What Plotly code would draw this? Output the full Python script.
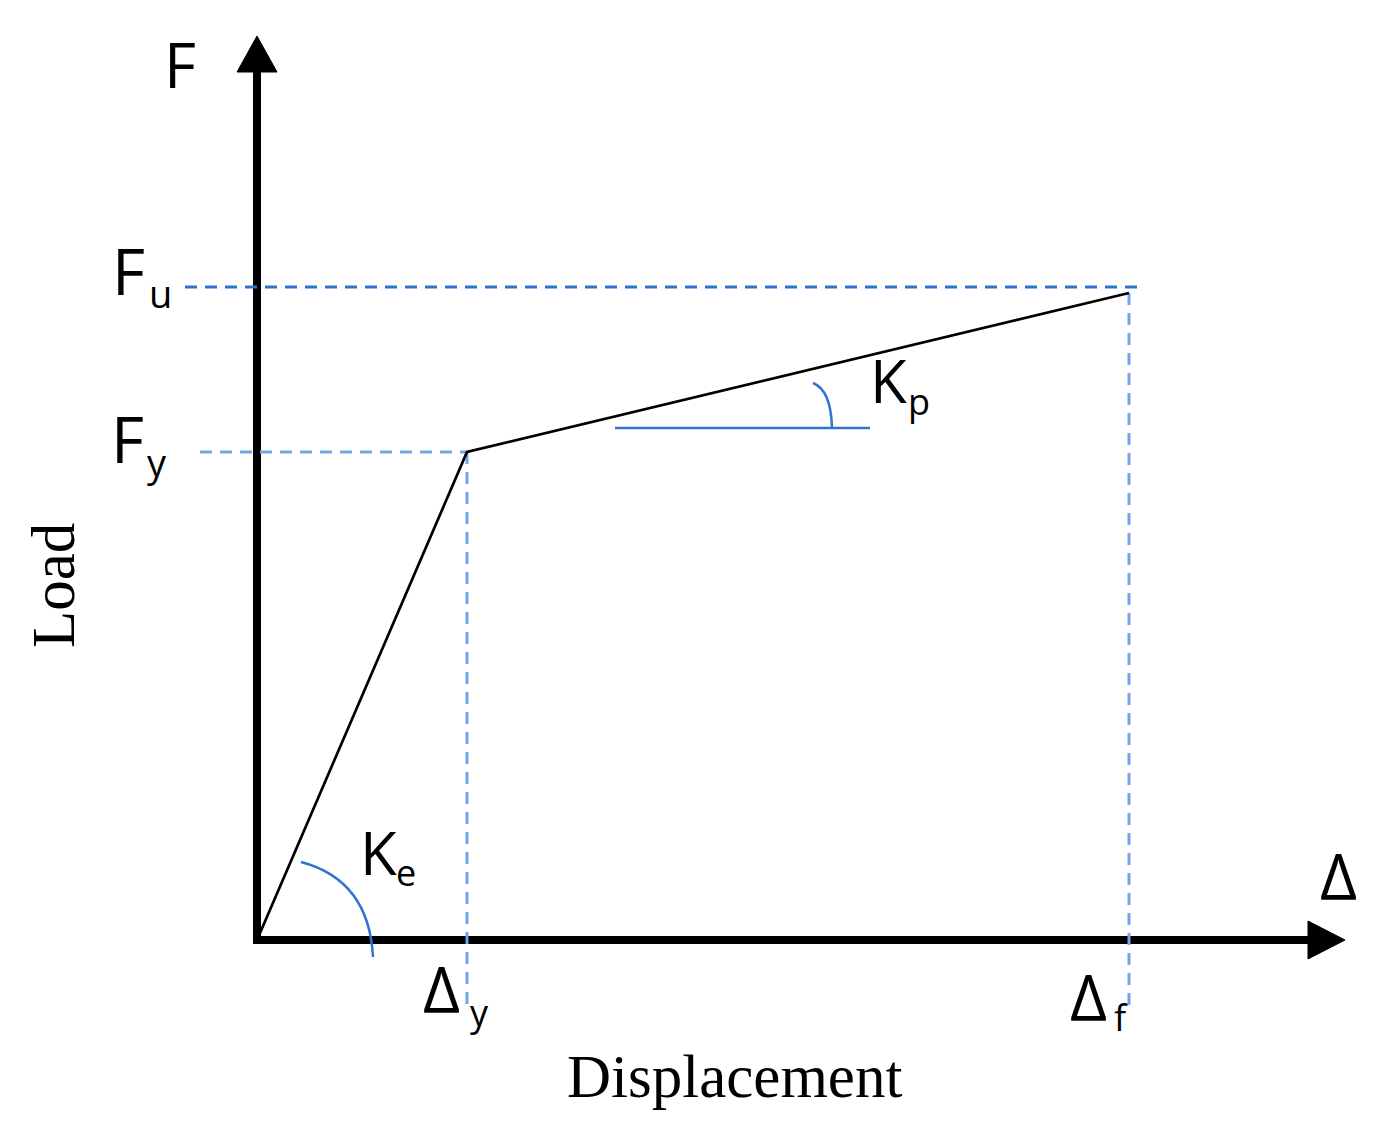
import plotly.graph_objects as go

# bilinear load-displacement idealisation (arbitrary units)
displacement = [0.0, 2.10, 8.72]
load = [0.0, 4.88, 6.47]
delta_y = displacement[1]
delta_f = displacement[2]
F_y = load[1]
F_u = 6.53

# axis extents (arrow tips)
x_max = 10.88
y_max = 9.04

sans = "Open Sans"
serif = "Liberation Serif"
blue = "#2f74d0"
light_blue = "#74a4e6"

fig = go.Figure()

# dashed reference lines
fig.add_trace(go.Scatter(x=[-0.72, delta_f + 0.16], y=[F_u, F_u], mode="lines",
                         line=dict(color=blue, width=3, dash="12px,8px")))
fig.add_trace(go.Scatter(x=[-0.57, delta_y], y=[F_y, F_y], mode="lines",
                         line=dict(color=light_blue, width=3, dash="12px,8px")))
fig.add_trace(go.Scatter(x=[delta_y, delta_y], y=[F_y, -0.72], mode="lines",
                         line=dict(color=light_blue, width=3, dash="12px,8px")))
fig.add_trace(go.Scatter(x=[delta_f, delta_f], y=[load[2], -0.65], mode="lines",
                         line=dict(color=light_blue, width=3, dash="12px,8px")))

# Kp reference line
fig.add_trace(go.Scatter(x=[3.58, 6.13], y=[5.12, 5.12], mode="lines",
                         line=dict(color=blue, width=2.5)))

# load-displacement curve
fig.add_trace(go.Scatter(x=displacement, y=load, mode="lines",
                         line=dict(color="black", width=2.7)))

shapes = [
    # axes
    dict(type="line", x0=0, y0=-0.04, x1=0, y1=y_max - 0.36,
         line=dict(color="black", width=8), layer="below"),
    dict(type="line", x0=-0.04, y0=0, x1=x_max - 0.37, y1=0,
         line=dict(color="black", width=8), layer="below"),
    dict(type="path", path=f"M 0,{y_max} L -0.20,{y_max - 0.36} L 0.20,{y_max - 0.36} Z",
         fillcolor="black", line=dict(color="black", width=1), layer="below"),
    dict(type="path", path=f"M {x_max},0 L {x_max - 0.37},0.19 L {x_max - 0.37},-0.19 Z",
         fillcolor="black", line=dict(color="black", width=1), layer="below"),
    # angle arcs
    dict(type="path", path="M 0.44,0.78 Q 1.12,0.60 1.16,-0.17",
         line=dict(color=blue, width=2.5)),
    dict(type="path", path="M 5.56,5.57 Q 5.74,5.50 5.75,5.12",
         line=dict(color=blue, width=2.5)),
]

def label(x, y, text, size, family=sans, **kw):
    return dict(x=x, y=y, text=text, showarrow=False, xanchor="center", yanchor="middle",
                font=dict(family=family, size=size, color="black"), **kw)

annotations = [
    label(-0.77, y_max - 0.28, "F", 62),
    label(-1.29, F_u + 0.17, "F", 64),
    label(-0.97, F_u - 0.06, "u", 38),
    label(-1.30, F_y + 0.14, "F", 64),
    label(-1.00, F_y - 0.10, "y", 38),
    label(1.21, 0.88, "K", 60),
    label(1.49, 0.68, "e", 36),
    label(6.31, 5.60, "K", 60),
    label(6.62, 5.39, "p", 36),
    label(x_max - 0.07, 0.65, "Δ", 64),
    label(delta_y - 0.26, -0.48, "Δ", 64),
    label(delta_y + 0.12, -0.72, "y", 36),
    label(delta_f - 0.41, -0.56, "Δ", 64),
    label(delta_f - 0.08, -0.77, "f", 36),
    label(-2.04, 3.54, "Load", 61, family=serif, textangle=-90),
    label(4.77, -1.36, "Displacement", 61, family=serif),
]

# page body has an 8px margin, so ranges are offset to keep the origin at (257, 940)
fig.update_layout(
    width=1397, height=1139, autosize=False,
    margin=dict(l=0, r=0, t=0, b=0),
    paper_bgcolor="white", plot_bgcolor="white",
    showlegend=False, hovermode=False,
    xaxis=dict(range=[-2.49, 11.48], visible=False, fixedrange=True),
    yaxis=dict(range=[-2.07, 9.32], visible=False, fixedrange=True),
    shapes=shapes, annotations=annotations,
)

fig.write_html("out.html")
